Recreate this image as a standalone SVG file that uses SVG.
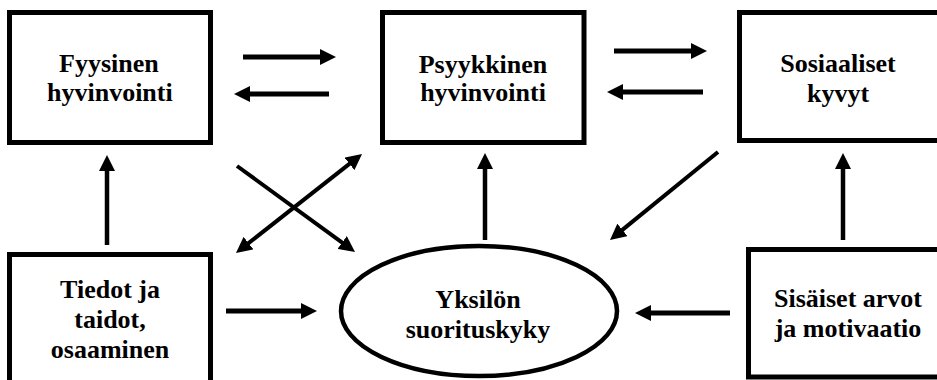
<svg xmlns="http://www.w3.org/2000/svg" width="937" height="380" viewBox="0 0 937 380">
  <style>
    .box { fill: #fff; stroke: #000; stroke-width: 5; }
    .arr { stroke: #000; fill: none; marker-end: url(#head); }
    .thick { stroke-width: 5; }
    .mid { stroke-width: 4.5; }
    .thin { stroke-width: 4; }
  </style>
  <defs>
    <marker id="head" markerUnits="userSpaceOnUse" markerWidth="16" markerHeight="16" refX="4" refY="8" orient="auto-start-reverse" viewBox="0 0 16 16">
      <path d="M0,0 L16,8 L0,16 z" fill="#000"/>
    </marker>
  </defs>
  <rect width="937" height="380" fill="#fff"/>

  <g id="fyysinen">
    <rect class="box" x="9.5" y="12.5" width="201" height="130"/>
    <text x="59" y="72" font-size="26" font-weight="bold" font-family="Liberation Serif">Fyysinen</text>
    <text x="47" y="101" font-size="26" font-weight="bold" font-family="Liberation Serif">hyvinvointi</text>
  </g>

  <g class="node-psyykkinen">
    <rect class="box" x="382.5" y="12.5" width="201.5" height="130"/>
    <text x="483" y="73" font-size="26" font-weight="bold" text-anchor="middle" font-family="Liberation Serif">Psyykkinen</text>
    <text x="483" y="101" font-size="26" font-weight="bold" text-anchor="middle" font-family="Liberation Serif">hyvinvointi</text>
  </g>

  <g id="sosiaaliset">
    <rect class="box" x="739.5" y="12.5" width="210" height="128"/>
    <text x="838" y="72" font-size="26" font-weight="bold" text-anchor="middle" font-family="Liberation Serif">Sosiaaliset</text>
    <text x="838" y="102" font-size="26" font-weight="bold" text-anchor="middle" font-family="Liberation Serif">kyvyt</text>
  </g>

  <g id="tiedot">
    <rect class="box" x="9.5" y="254.5" width="201" height="140"/>
    <text x="110" y="298" font-size="26" font-weight="bold" text-anchor="middle" font-family="Liberation Serif">Tiedot ja</text>
    <text x="110" y="328" font-size="26" font-weight="bold" text-anchor="middle" font-family="Liberation Serif">taidot,</text>
    <text x="110" y="358" font-size="26" font-weight="bold" text-anchor="middle" font-family="Liberation Serif">osaaminen</text>
  </g>

  <g id="suorituskyky">
    <ellipse cx="479" cy="311" rx="138" ry="65" fill="#fff" stroke="#000" stroke-width="4.5"/>
    <text x="478" y="308" font-size="26" font-weight="bold" text-anchor="middle" font-family="Liberation Serif">Yksil&#246;n</text>
    <text x="478" y="338" font-size="26" font-weight="bold" text-anchor="middle" font-family="Liberation Serif">suorituskyky</text>
  </g>

  <g id="sisaiset">
    <rect class="box" x="748.5" y="249.5" width="200" height="127.5"/>
    <text x="848" y="307" font-size="26" font-weight="bold" text-anchor="middle" font-family="Liberation Serif">Sis&#228;iset arvot</text>
    <text x="848" y="337" font-size="26" font-weight="bold" text-anchor="middle" font-family="Liberation Serif">ja motivaatio</text>
  </g>

  <g id="connectors">
    <path class="arr thick" d="M243,57 L324,57"/>
    <path class="arr thick" d="M329,94 L246,94"/>
    <path class="arr thick" d="M614,51 L695,51"/>
    <path class="arr thick" d="M703,92 L619,92"/>
    <path class="arr mid" d="M107,245 L107,167"/>
    <path class="arr mid" d="M485,240 L485,165"/>
    <path class="arr mid" d="M843,240 L843,165"/>
    <path class="arr thick" d="M226,311 L305,311"/>
    <path class="arr thick" d="M730,313 L647,313"/>
    <path class="arr thin" d="M237,166 L345.3,244.9"/>
    <path class="arr thin" d="M245.4,245.6 L352.6,161.4" style="marker-start: url(#head)"/>
    <path class="arr thin" d="M718,152 L619.3,232.4"/>
  </g>
</svg>
